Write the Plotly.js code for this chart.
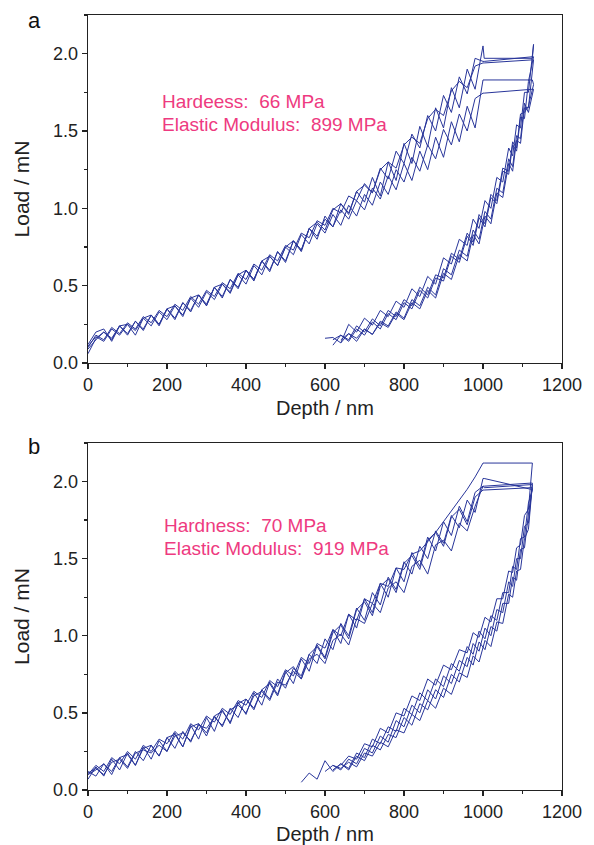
<!DOCTYPE html>
<html>
<head>
<meta charset="utf-8">
<script src="https://cdn.plot.ly/plotly-3.0.1.min.js"></script>
<style>html,body{margin:0;padding:0;background:#fff;}#chart{width:594px;height:845px;}</style>
</head>
<body>
<div id="chart"></div>
<script>
// ---------- shared x grids (nm) ----------
const LOAD_X = [0,20,40,60,80,100,120,140,160,180,200,220,240,260,280,300,320,340,360,380,400,420,440,460,480,500,520,540,560,580,600,620,640,660,680,700,720,740,760,780,800,820,840,860,880,900,920,940,960,980,1000];
const HOLD_X_A = [1003,1125];
const UNLOAD_X_A = [1128,1115,1105,1095,1085,1075,1065,1050,1035,1020,1005,990,975,960,940,920,900,880,860,840,820,800,780,760,740,720,700,680,660,640,620,600];
const HOLD_X_B = [1003,1121];
const UNLOAD_X_B = [1125,1115,1105,1095,1085,1075,1065,1050,1035,1020,1005,990,975,960,940,920,900,880,860,840,820,800,780,760,740,720,700,680,660,640,620,600,580,560,540];

// ---------- panel a : loading (mN) ----------
const loadA1 = [0.06,0.16,0.20,0.15,0.24,0.18,0.27,0.21,0.31,0.25,0.35,0.28,0.39,0.33,0.44,0.37,0.49,0.42,0.54,0.48,0.60,0.53,0.66,0.59,0.72,0.65,0.79,0.72,0.87,0.80,0.95,0.88,1.03,0.96,1.11,1.04,1.20,1.08,1.30,1.18,1.42,1.29,1.53,1.40,1.65,1.52,1.78,1.65,1.90,1.77,2.05];
const loadA2 = [0.10,0.18,0.15,0.23,0.19,0.26,0.22,0.30,0.26,0.34,0.30,0.38,0.34,0.43,0.38,0.47,0.43,0.52,0.48,0.58,0.54,0.64,0.60,0.70,0.66,0.76,0.73,0.84,0.81,0.92,0.89,1.00,0.97,1.08,1.05,1.16,1.10,1.26,1.19,1.37,1.29,1.48,1.39,1.60,1.50,1.73,1.62,1.85,1.74,1.97,1.95];
const loadA3 = [0.12,0.20,0.22,0.14,0.24,0.25,0.18,0.29,0.31,0.24,0.35,0.37,0.30,0.42,0.44,0.37,0.49,0.51,0.45,0.57,0.60,0.54,0.66,0.69,0.63,0.75,0.79,0.73,0.87,0.91,0.86,0.99,1.03,0.97,1.11,1.15,1.10,1.25,1.30,1.26,1.41,1.46,1.42,1.58,1.64,1.60,1.76,1.82,1.78,1.92,1.94];
const loadA4 = [0.09,0.15,0.20,0.16,0.24,0.19,0.27,0.22,0.31,0.25,0.35,0.29,0.39,0.34,0.44,0.38,0.49,0.43,0.54,0.49,0.60,0.54,0.66,0.60,0.72,0.66,0.79,0.73,0.87,0.82,0.93,0.88,0.99,0.93,1.05,0.99,1.13,1.06,1.21,1.12,1.29,1.18,1.37,1.25,1.46,1.33,1.56,1.43,1.66,1.52,1.83];
const loadA5 = [0.11,0.17,0.14,0.22,0.18,0.25,0.21,0.29,0.24,0.33,0.28,0.37,0.31,0.42,0.36,0.46,0.41,0.51,0.46,0.57,0.51,0.63,0.57,0.69,0.63,0.75,0.70,0.83,0.77,0.90,0.84,0.96,0.89,1.02,0.95,1.09,1.02,1.17,1.09,1.25,1.17,1.33,1.24,1.41,1.32,1.51,1.41,1.61,1.50,1.71,1.745];
// hold (mN)
const holdA1 = [1.97,1.97];
const holdA2 = [1.95,1.98];
const holdA3 = [1.94,1.96];
const holdA4 = [1.83,1.83];
const holdA5 = [1.745,1.77];
// unloading (mN)
const unloadA1 = [2.06,1.75,1.75,1.52,1.54,1.34,1.39,1.17,1.20,1.00,1.05,0.87,0.93,0.76,0.80,0.64,0.68,0.51,0.56,0.43,0.48,0.36,0.40,0.30,0.34,0.245,0.29,0.20,0.25,0.13,0.165,0.16];
const unloadA2 = [1.98,1.82,1.58,1.59,1.37,1.41,1.22,1.24,1.03,1.07,0.88,0.94,0.76,0.82,0.65,0.69,0.53,0.55,0.42,0.47,0.35,0.39,0.28,0.32,0.22,0.265,0.18,0.22,0.14,0.18,0.115,null];
const unloadA3 = [1.96,1.65,1.65,1.42,1.44,1.24,1.29,1.07,1.10,0.90,0.95,0.77,0.83,0.66,0.70,0.54,0.58,0.42,0.47,0.35,0.39,0.28,0.32,0.23,0.26,0.185,0.22,0.14,0.19,0.13,null,null];
const unloadA4 = [1.80,1.66,1.62,1.61,1.39,1.43,1.24,1.26,1.05,1.09,0.90,0.96,0.78,0.84,0.67,0.71,0.55,0.57,0.44,0.49,0.37,0.41,0.30,0.34,0.24,0.285,0.20,0.24,0.15,0.18,0.15,null];
const unloadA5 = [1.77,1.62,1.68,1.45,1.47,1.27,1.32,1.10,1.13,0.93,0.98,0.80,0.86,0.69,0.73,0.57,0.61,0.44,0.49,0.37,0.41,0.29,0.33,0.24,0.27,0.185,0.22,0.16,0.19,0.15,null,null];

// ---------- panel b : loading (mN) ----------
const loadB1 = [0.10,0.16,0.12,0.21,0.17,0.25,0.20,0.29,0.25,0.33,0.30,0.38,0.33,0.43,0.39,0.48,0.44,0.53,0.49,0.58,0.55,0.64,0.60,0.71,0.67,0.78,0.74,0.86,0.82,0.95,0.92,1.04,1.00,1.14,1.10,1.24,1.21,1.34,1.32,1.44,1.43,1.53,1.55,1.61,1.67,1.74,1.81,1.88,1.95,2.03,2.12];
const loadB2 = [0.12,0.09,0.17,0.12,0.21,0.15,0.25,0.19,0.29,0.22,0.34,0.27,0.38,0.31,0.43,0.37,0.48,0.41,0.53,0.47,0.59,0.53,0.65,0.59,0.72,0.66,0.79,0.74,0.88,0.82,0.98,0.91,1.08,1.00,1.18,1.10,1.28,1.20,1.38,1.30,1.48,1.40,1.58,1.50,1.68,1.60,1.78,1.70,1.88,1.80,2.02];
const loadB3 = [0.07,0.15,0.09,0.20,0.13,0.24,0.16,0.28,0.20,0.32,0.25,0.37,0.28,0.42,0.33,0.47,0.38,0.52,0.43,0.57,0.49,0.63,0.55,0.70,0.62,0.77,0.69,0.85,0.77,0.94,0.86,1.04,0.95,1.14,1.05,1.24,1.15,1.34,1.25,1.44,1.35,1.54,1.45,1.64,1.55,1.74,1.65,1.84,1.74,1.93,1.97];
const loadB4 = [0.10,0.13,0.17,0.10,0.21,0.23,0.16,0.27,0.29,0.22,0.34,0.36,0.28,0.41,0.43,0.35,0.48,0.51,0.44,0.56,0.59,0.52,0.65,0.69,0.61,0.76,0.80,0.72,0.88,0.93,0.85,1.02,1.07,0.98,1.17,1.22,1.13,1.32,1.37,1.28,1.47,1.52,1.43,1.62,1.67,1.58,1.77,1.82,1.72,1.90,1.945];
const loadB5 = [0.11,0.14,0.10,0.18,0.20,0.14,0.24,0.26,0.24,0.29,0.25,0.35,0.37,0.32,0.42,0.40,0.47,0.42,0.52,0.55,0.50,0.61,0.64,0.58,0.70,0.68,0.77,0.72,0.85,0.88,0.82,0.97,1.01,0.94,1.11,1.08,1.21,1.15,1.31,1.35,1.28,1.45,1.49,1.40,1.59,1.62,1.55,1.73,1.68,1.84,1.97];
// hold (mN)
const holdB1 = [2.12,2.12];
const holdB2 = [2.02,1.95];
const holdB3 = [1.97,1.99];
const holdB4 = [1.945,1.96];
const holdB5 = [1.96,1.98];
// unloading (mN)
const unloadB1 = [2.12,1.82,1.78,1.59,1.57,1.41,1.42,1.24,1.24,1.09,1.12,0.99,1.02,0.89,0.91,0.78,0.81,0.68,0.72,0.58,0.61,0.48,0.50,0.37,0.40,0.28,0.30,0.20,0.22,0.16,null,null,null,null,null];
const unloadB2 = [1.95,1.86,1.64,1.63,1.43,1.45,1.28,1.28,1.10,1.13,0.98,1.03,0.88,0.93,0.77,0.82,0.67,0.72,0.58,0.63,0.49,0.53,0.38,0.41,0.30,0.33,0.21,0.24,0.14,0.17,0.13,null,null,null,null];
const unloadB3 = [1.99,1.73,1.71,1.50,1.50,1.32,1.35,1.15,1.17,1.00,1.05,0.90,0.95,0.80,0.84,0.69,0.74,0.59,0.65,0.50,0.55,0.41,0.45,0.31,0.35,0.24,0.27,0.17,0.20,0.13,0.16,0.12,null,null,null];
const unloadB4 = [1.96,1.79,1.57,1.56,1.36,1.38,1.21,1.21,1.03,1.06,0.91,0.96,0.81,0.86,0.70,0.75,0.60,0.65,0.52,0.56,0.42,0.47,0.34,0.36,0.26,0.29,0.19,0.22,0.13,0.17,0.12,0.19,0.07,0.11,0.05];
const unloadB5 = [1.98,1.69,1.63,1.43,1.42,1.25,1.27,1.08,1.09,0.93,0.97,0.83,0.87,0.73,0.76,0.62,0.66,0.53,0.58,0.45,0.49,0.37,0.39,0.28,0.31,0.22,0.24,0.15,0.18,0.14,0.16,null,null,null,null];

// ---------- labels ----------
const PANEL_LABELS = ['a','b'];
const NOTE_A = ['Hardeess:\u00a0\u00a066 MPa','Elastic Modulus:\u00a0\u00a0899 MPa'];
const NOTE_B = ['Hardness:\u00a0\u00a070 MPa','Elastic Modulus:\u00a0\u00a0919 MPa'];
const X_TITLE = 'Depth / nm';
const Y_TITLE = 'Load / mN';

const LINE_COLOR = '#28359a';
const NOTE_COLOR = '#ee3a80';
const FONT = 'Liberation Sans, Arial, sans-serif';

function curve(loadY, holdX, holdY, unloadX, unloadY, xa, ya) {
  return {
    type: 'scatter', mode: 'lines',
    x: LOAD_X.concat(holdX, unloadX),
    y: loadY.concat(holdY, unloadY),
    xaxis: xa, yaxis: ya,
    line: {color: LINE_COLOR, width: 1},
    connectgaps: false,
    hoverinfo: 'skip', showlegend: false
  };
}

const traces = [
  curve(loadA1, HOLD_X_A, holdA1, UNLOAD_X_A, unloadA1, 'x', 'y'),
  curve(loadA2, HOLD_X_A, holdA2, UNLOAD_X_A, unloadA2, 'x', 'y'),
  curve(loadA3, HOLD_X_A, holdA3, UNLOAD_X_A, unloadA3, 'x', 'y'),
  curve(loadA4, HOLD_X_A, holdA4, UNLOAD_X_A, unloadA4, 'x', 'y'),
  curve(loadA5, HOLD_X_A, holdA5, UNLOAD_X_A, unloadA5, 'x', 'y'),
  curve(loadB1, HOLD_X_B, holdB1, UNLOAD_X_B, unloadB1, 'x2', 'y2'),
  curve(loadB2, HOLD_X_B, holdB2, UNLOAD_X_B, unloadB2, 'x2', 'y2'),
  curve(loadB3, HOLD_X_B, holdB3, UNLOAD_X_B, unloadB3, 'x2', 'y2'),
  curve(loadB4, HOLD_X_B, holdB4, UNLOAD_X_B, unloadB4, 'x2', 'y2'),
  curve(loadB5, HOLD_X_B, holdB5, UNLOAD_X_B, unloadB5, 'x2', 'y2')
];

const tickFont = {family: FONT, size: 18, color: '#222'};
const titleFont = {family: FONT, size: 21, color: '#222'};
const xTitleFont = {family: FONT, size: 20, color: '#222'};

function xAxis(anchor) {
  return {
    domain: [88/594, 562/594], anchor: anchor, range: [0, 1200],
    tick0: 0, dtick: 200, ticks: 'outside', ticklen: 5, tickwidth: 1.3, tickcolor: '#222',
    minor: {ticks: 'outside', ticklen: 3, dtick: 100, tickwidth: 1.3, tickcolor: '#222', showgrid: false},
    showline: true, linewidth: 1.3, linecolor: '#222', mirror: true,
    showgrid: false, zeroline: false, tickfont: tickFont
  };
}
function yAxis(anchor, dom) {
  return {
    domain: dom, anchor: anchor, range: [0, 2.25],
    tick0: 0, dtick: 0.5, tickformat: '.1f', ticks: 'outside', ticklen: 5, tickwidth: 1.3, tickcolor: '#222',
    minor: {ticks: 'outside', ticklen: 3, dtick: 0.25, tickwidth: 1.3, tickcolor: '#222', showgrid: false},
    showline: true, linewidth: 1.3, linecolor: '#222', mirror: true,
    showgrid: false, zeroline: false, tickfont: tickFont,
    title: {text: Y_TITLE, font: titleFont, standoff: 17}
  };
}

function note(text, x, y, xr, yr) {
  return {text: text, x: x, y: y, xref: xr, yref: yr, xanchor: 'left', yanchor: 'middle',
          showarrow: false, font: {family: FONT, size: 19, color: NOTE_COLOR}};
}
function xTitle(yPaper) {
  return {text: X_TITLE, x: 325/594, y: yPaper, xref: 'paper', yref: 'paper', xanchor: 'center', yanchor: 'middle',
          showarrow: false, font: xTitleFont};
}

const layout = {
  width: 594, height: 845,
  margin: {l: 0, r: 0, t: 0, b: 0},
  paper_bgcolor: '#fff', plot_bgcolor: '#fff',
  showlegend: false,
  xaxis: xAxis('y'),
  yaxis: yAxis('x', [482/845, 830/845]),
  xaxis2: xAxis('y2'),
  yaxis2: yAxis('x2', [55/845, 402/845]),
  annotations: [
    note(NOTE_A[0], 182, 1.69, 'x', 'y'),
    note(NOTE_A[1], 182, 1.545, 'x', 'y'),
    note(NOTE_B[0], 187, 1.715, 'x2', 'y2'),
    note(NOTE_B[1], 187, 1.567, 'x2', 'y2'),
    xTitle(1 - 408/845),
    xTitle(1 - 834/845),
    {text: PANEL_LABELS[0], x: 34/594, y: 1 - 20/845, xref: 'paper', yref: 'paper', xanchor: 'center', yanchor: 'middle',
     showarrow: false, font: {family: FONT, size: 22, color: '#111'}},
    {text: PANEL_LABELS[1], x: 34/594, y: 1 - 446/845, xref: 'paper', yref: 'paper', xanchor: 'center', yanchor: 'middle',
     showarrow: false, font: {family: FONT, size: 22, color: '#111'}}
  ]
};

Plotly.newPlot('chart', traces, layout, {staticPlot: true, displayModeBar: false});
</script>
</body>
</html>
